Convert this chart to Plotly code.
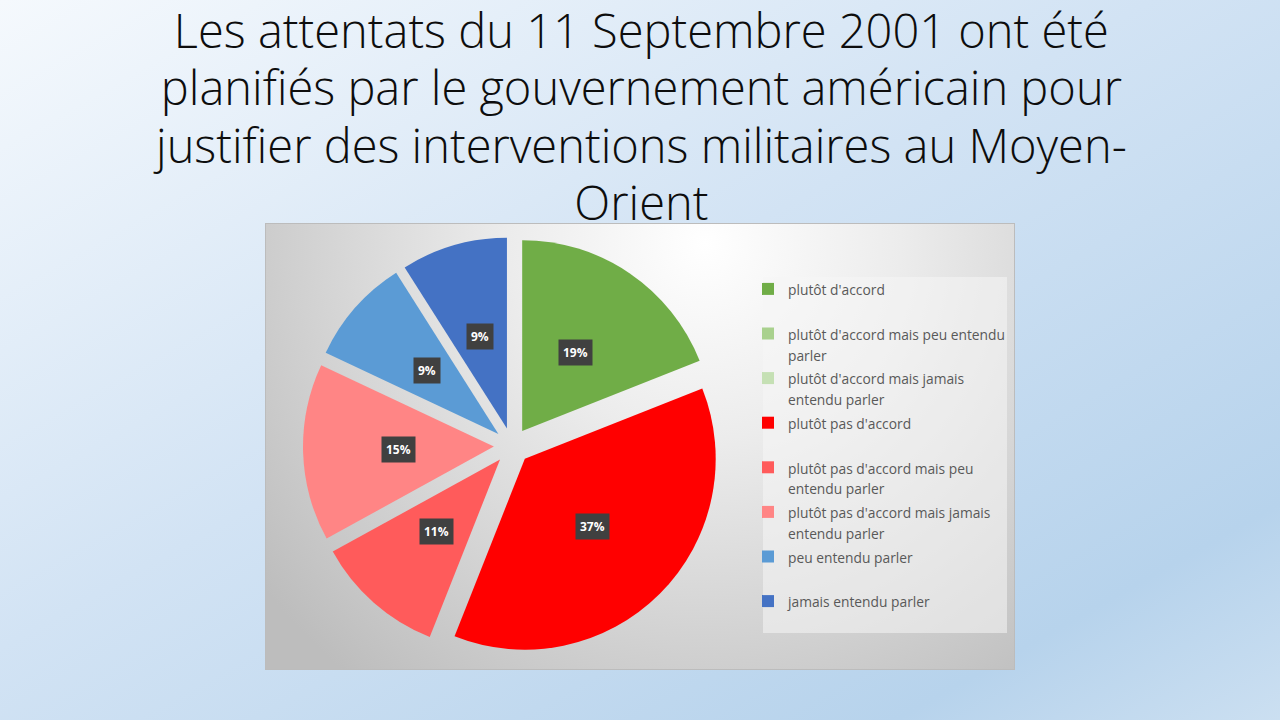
import base64
import math
import plotly.graph_objects as go

# ---------------- data ----------------
categories = [
    "plutôt d'accord",
    "plutôt d'accord mais peu entendu\nparler",
    "plutôt d'accord mais jamais\nentendu parler",
    "plutôt pas d'accord",
    "plutôt pas d'accord mais peu\nentendu parler",
    "plutôt pas d'accord mais jamais\nentendu parler",
    "peu entendu parler",
    "jamais entendu parler",
]
values = [19, 0, 0, 37, 11, 15, 9, 9]
slice_colors = ["#70ad47", "#a9d18e", "#c5e0b4", "#ff0000",
                "#ff5b5b", "#ff8585", "#5b9bd5", "#4472c4"]
title_lines = [
    "Les attentats du 11 Septembre 2001 ont été",
    "planifiés par le gouvernement américain pour",
    "justifier des interventions militaires au Moyen-",
    "Orient",
]

# ---------------- layout constants ----------------
W, H = 1280, 720
PULL = 0.095
CX, CY = 512, 446          # pie centre (px)
BOX = 418                  # pie domain box (px)
FONT = "'Open Sans', Lato, sans-serif"


def svg_uri(svg):
    return "data:image/svg+xml;base64," + base64.b64encode(svg.encode()).decode()


page_bg = svg_uri(
    "<svg xmlns='http://www.w3.org/2000/svg' width='1280' height='720' viewBox='0 0 1280 720' preserveAspectRatio='none'>"
    "<defs><linearGradient id='g' x1='0' y1='0' x2='1' y2='1'>"
    "<stop offset='0' stop-color='#f5f9fd'/>"
    "<stop offset='0.45' stop-color='#d2e3f4'/>"
    "<stop offset='0.85' stop-color='#b7d3ec'/>"
    "<stop offset='1' stop-color='#cbdff1'/>"
    "</linearGradient></defs>"
    "<rect width='1280' height='720' fill='url(#g)'/></svg>"
)

chart_bg = svg_uri(
    "<svg xmlns='http://www.w3.org/2000/svg' width='750' height='447' viewBox='0 0 750 447' preserveAspectRatio='none'>"
    "<defs><radialGradient id='r' gradientUnits='userSpaceOnUse' cx='440' cy='20' r='560'>"
    "<stop offset='0' stop-color='#ffffff'/>"
    "<stop offset='0.35' stop-color='#ececec'/>"
    "<stop offset='1' stop-color='#bdbdbd'/>"
    "</radialGradient></defs>"
    "<rect width='750' height='447' fill='url(#r)' stroke='#bcbcbc' stroke-width='2'/></svg>"
)


def legend_label(text):
    return "<br>".join(
        f"<span style='font-size:13.8px'>{ln}</span>" for ln in (text.split("\n") + [" "])[:2]
    )


labels = [legend_label(c) for c in categories]

fig = go.Figure()
fig.add_trace(go.Pie(
    labels=labels,
    values=values,
    sort=False,
    direction="clockwise",
    rotation=0,
    pull=PULL,
    marker=dict(colors=slice_colors, line=dict(width=0)),
    textinfo="none",
    hoverinfo="label+percent",
    domain=dict(x=[(CX - BOX / 2) / W, (CX + BOX / 2) / W],
                y=[1 - (CY + BOX / 2) / H, 1 - (CY - BOX / 2) / H]),
))

# data labels in dark boxes, placed from the slice geometry
r = BOX / 2 / (1 + PULL)
total = sum(values)
cum = 0
annotations = []
for v in values:
    if v > 0:
        mid = math.radians((cum + v / 2) / total * 360)
        d = (0.5 + PULL) * r
        px = CX + d * math.sin(mid)
        py = CY - d * math.cos(mid)
        annotations.append(dict(
            x=px / W, y=1 - py / H, xref="paper", yref="paper",
            xanchor="center", yanchor="middle",
            text=f"<b>{round(v / total * 100)}%</b>", showarrow=False,
            font=dict(family=FONT, size=12, color="white"),
            bgcolor="#404040", borderpad=4,
        ))
    cum += v

# title: line pitch from base size 44.2 (x1.3 = 57.5 px), glyphs at 47 px
annotations.append(dict(
    x=0.5, y=1 + 4 / H, xref="paper", yref="paper", xanchor="center", yanchor="top",
    text="<br>".join(f"<span style='font-size:47px'>{ln}</span>" for ln in title_lines),
    showarrow=False,
    font=dict(family=FONT, size=44.2, color="#0d0d0d", weight=300),
))

fig.update_layout(
    width=W, height=H,
    margin=dict(l=0, r=0, t=0, b=0),
    paper_bgcolor="#cfe1f3",
    plot_bgcolor="rgba(0,0,0,0)",
    showlegend=True,
    legend=dict(
        x=748 / W, y=1 - 272 / H, xanchor="left", yanchor="top",
        bgcolor="rgba(0,0,0,0)", valign="top",
        font=dict(family=FONT, size=16, color="#595959"),
    ),
    images=[
        dict(source=page_bg, xref="paper", yref="paper", x=0, y=1, sizex=1, sizey=1,
             sizing="stretch", layer="below", xanchor="left", yanchor="top"),
        dict(source=chart_bg, xref="paper", yref="paper", x=265 / W, y=1 - 223 / H,
             sizex=750 / W, sizey=447 / H, sizing="stretch", layer="below",
             xanchor="left", yanchor="top"),
    ],
    shapes=[dict(type="rect", xref="paper", yref="paper",
                 x0=763 / W, x1=1007 / W, y0=1 - 633 / H, y1=1 - 277 / H,
                 fillcolor="rgba(245,245,245,0.55)", line=dict(width=0), layer="below")],
    annotations=annotations,
)

fig.write_html("out.html")
